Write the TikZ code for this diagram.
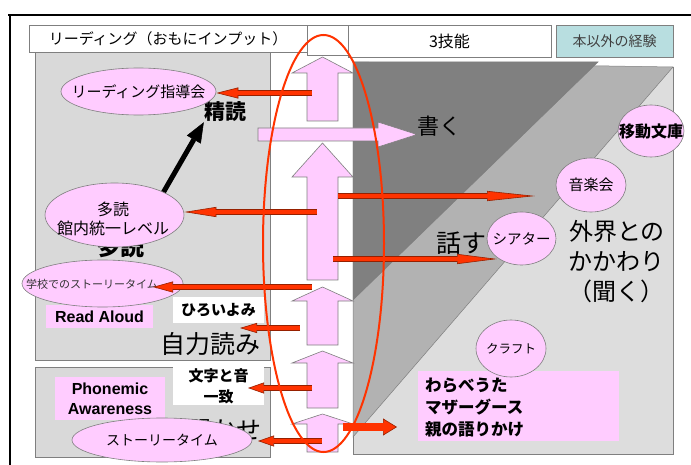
\documentclass[tikz,border=0pt]{standalone}
\usepackage{fontspec}
\setmainfont{Liberation Sans}
\newfontfamily\jp{Noto Sans CJK JP}
\usetikzlibrary{shapes.geometric,arrows.meta,calc}
\definecolor{pinkf}{HTML}{FFCCFF}
\definecolor{outc}{HTML}{7F7F7F}
\definecolor{grayL}{HTML}{D9D9D9}
\definecolor{grayR}{HTML}{DDDDDD}
\definecolor{grayM}{HTML}{B2B2B2}
\definecolor{grayD}{HTML}{808080}
\definecolor{tealf}{HTML}{B8DEE0}
\definecolor{redd}{HTML}{FF3300}
\definecolor{redo}{HTML}{962000}
\newcommand\fsz[2]{\fontsize{#1pt}{#2pt}\selectfont}
\newcommand\pinkup[3]{\draw[pinkblk] (322.5,#1) -- (353,#2) -- (338,#2) -- (338,#3) -- (307,#3) -- (307,#2) -- (292,#2) -- cycle;}
% start, end, tip length, tip width, outer shaft, inner shaft, shorten
\newcommand\redarr[7]{%
  \draw[redo, line width=#5, -{Triangle[length=#3, width=#4, line width=.6pt, fill=redd]}] #1 -- #2;
  \draw[redd, line width=#6, shorten >=#7] #1 -- #2;}
\begin{document}
\begin{tikzpicture}[x=1pt,y=-1pt,
  bub/.style={ellipse, draw=outc, fill=pinkf, line width=0.6pt, inner sep=0pt},
  pinkblk/.style={draw=outc, fill=pinkf, line width=0.6pt, line join=miter},
  hdr/.style={draw=outc, line width=0.6pt, inner sep=0pt},
  boxL/.style={draw=outc, fill=grayL, line width=0.6pt},
]
\useasboundingbox (0,0) rectangle (691,465);
% frame
\draw[black, line width=2pt] (8,15) -- (691,15);
\draw[black, line width=2pt] (10,15) -- (10,465);
% headers
\node[hdr, fill=white, minimum width=278pt, minimum height=27pt, font=\jp\fsz{15}{18}] (hdrA) at (168,38.5) {リーディング（おもにインプット）};
\node[hdr, fill=white, minimum width=41pt, minimum height=30pt] (hdrB) at (327.5,40) {};
\node[hdr, fill=white, minimum width=203pt, minimum height=32pt, font=\jp\fsz{16}{19}] (hdrC) at (449.5,41) {3技能};
\node[hdr, fill=tealf, minimum width=117pt, minimum height=32pt, font=\jp\fsz{14}{17}, text=black!75] (hdrD) at (614.5,41) {本以外の経験};
% left gray boxes
\draw[boxL] (35,52) rectangle (270,360);
\draw[boxL] (35,367) rectangle (270,457);
% right region
\draw[draw=outc, fill=grayR, line width=0.6pt] (353,67) rectangle (673,454);
\draw[draw=outc, fill=grayM, line width=0.5pt] (353,62) -- (673,67) -- (353,437) -- cycle;
\draw[draw=outc, fill=grayD, line width=0.5pt] (353,62) -- (598,62) -- (353,300) -- cycle;
% big labels
\node[font=\jp\bfseries\fsz{21}{24}, inner sep=0pt] (seidoku) at (225,112) {精読};
\node[font=\jp\bfseries\fsz{24}{28}, inner sep=0pt] (tadoku) at (120,246) {多読};
\node[font=\jp\fsz{25}{30}, inner sep=0pt] (jiriki) at (210,344) {自力読み};
\node[font=\jp\fsz{25}{30}, inner sep=0pt, anchor=east] (yomikika) at (262,430) {読み聞かせ};
\node[font=\jp\fsz{22}{26}, inner sep=0pt, anchor=west] (kaku) at (417,126) {書く};
\node[font=\jp\fsz{25}{30}, inner sep=0pt, anchor=west] (hanasu) at (436,243) {話す};
\node[font=\jp\fsz{24}{30}, inner sep=0pt, align=right, anchor=east] (gaikai) at (665,262) {外界との\\かかわり\\（聞く）};
% white boxes
\node[fill=white, minimum width=91pt, minimum height=26pt, inner sep=0pt, font=\jp\bfseries\fsz{15}{18}] (hiroi) at (218.5,310) {ひろいよみ};
\node[fill=white, minimum width=91pt, minimum height=38pt, inner sep=0pt, align=center, font=\jp\bfseries\fsz{15}{21}] (moji) at (218.5,386) {文字と音\\一致};
% pink rects
\node[fill=pinkf, minimum width=107pt, minimum height=23pt, inner sep=0pt, font=\bfseries\fsz{16}{19}] (readaloud) at (99.5,316.5) {Read Aloud};
\node[fill=pinkf, minimum width=110pt, minimum height=43pt, inner sep=0pt, align=center, font=\bfseries\fsz{16}{20}] (phonemic) at (110,398.5) {Phonemic\\Awareness};
\node[fill=pinkf, minimum width=201pt, minimum height=70pt, inner sep=0pt] (warabe) at (518.5,406) {};
\node[font=\jp\bfseries\fsz{16.5}{22}, inner sep=0pt, align=left, anchor=west] (warabet) at (425,408) {わらべうた\\マザーグース\\親の語りかけ};
% pink block arrows
\pinkup{57}{73}{121}
\pinkup{143}{177}{280}
\pinkup{287}{301}{345}
\pinkup{351}{363}{408}
\pinkup{414}{424}{452}
\draw[pinkblk] (258,128) -- (378,128) -- (378,122) -- (417,134.5) -- (378,147) -- (378,141) -- (258,141) -- cycle;
% black arrow
\coordinate (bks) at (163,193);
\draw[black, line width=5pt, -{Triangle[length=20pt, width=16pt, line width=.5pt]}] (bks) -- (seidoku.south west);
% ellipses
\node[bub, minimum width=155pt, minimum height=47pt] (shidou) at (138.5,91.5) {};
\node[font=\jp\fsz{15}{18}, inner sep=0pt] at (shidou) {リーディング指導会};
\node[bub, minimum width=139pt, minimum height=64pt] (taku) at (114.5,215) {};
\node[font=\jp\fsz{16}{19}, inner sep=0pt, align=center] at (113,218.5) {多読\\館内統一レベル};
\node[bub, minimum width=161pt, minimum height=47pt] (school) at (102.5,283.5) {};
\node[font=\jp\fsz{11}{13}, inner sep=0pt, text=black!80] at (92,284) {学校でのストーリータイム};
\node[bub, minimum width=180pt, minimum height=44pt] (story) at (162,440) {};
\node[font=\jp\fsz{14}{17}, inner sep=0pt] at (story) {ストーリータイム};
\node[bub, minimum width=66pt, minimum height=52pt] (idou) at (651,131) {};
\node[font=\jp\bfseries\fsz{16}{19}, inner sep=0pt] at (idou) {移動文庫};
\node[bub, minimum width=70pt, minimum height=54pt] (ongaku) at (591,185) {};
\node[font=\jp\fsz{15}{18}, inner sep=0pt] at (ongaku) {音楽会};
\node[bub, minimum width=69pt, minimum height=53pt] (theater) at (521.5,238.5) {};
\node[font=\jp\fsz{14.5}{17}, inner sep=0pt] at (theater) {シアター};
\node[bub, minimum width=70pt, minimum height=57pt] (craft) at (511,348.5) {};
\node[font=\jp\fsz{12.5}{15}, inner sep=0pt] at (craft) {クラフト};
% red arrows
\coordinate (r1s) at (312,93);
\coordinate (r2s) at (338,196); \coordinate (r2e) at (535,196);
\coordinate (r3s) at (317,212);
\coordinate (r4s) at (333,259); \coordinate (r4e) at (497,259);
\coordinate (r5s) at (312,287); \coordinate (r5e) at (153,287);
\coordinate (r6s) at (300,328); \coordinate (r6e) at (240,328);
\coordinate (r7s) at (312,388); \coordinate (r7e) at (248,388);
\coordinate (r8s) at (322,441); \coordinate (r8e) at (258,441);
\coordinate (r9s) at (343,427); \coordinate (r9e) at (397,427);
\redarr{(r1s)}{(r1s -| shidou.east)}{22pt}{11pt}{5.4pt}{4.2pt}{21pt}
\redarr{(r2s)}{(r2e)}{48pt}{10pt}{5.4pt}{4.2pt}{47pt}
\redarr{(r3s)}{(r3s -| taku.east)}{32pt}{10pt}{5.4pt}{4.2pt}{31pt}
\redarr{(r4s)}{(r4e)}{40pt}{10pt}{5.4pt}{4.2pt}{39pt}
\redarr{(r5s)}{(r5e)}{20pt}{11pt}{5.4pt}{4.2pt}{19pt}
\redarr{(r6s)}{(r6e)}{17pt}{10pt}{5.4pt}{4.2pt}{16pt}
\redarr{(r7s)}{(r7e)}{16pt}{11pt}{5.4pt}{4.2pt}{15pt}
\redarr{(r8s)}{(r8e)}{16pt}{11pt}{5.4pt}{4.2pt}{15pt}
\redarr{(r9s)}{(r9e)}{14pt}{17pt}{8.6pt}{7.4pt}{13pt}
% red ellipse
\node[ellipse, draw=redd, line width=2pt, minimum width=121pt, minimum height=417pt, inner sep=0pt] (focus) at (323.5,243.5) {};
\end{tikzpicture}
\end{document}
